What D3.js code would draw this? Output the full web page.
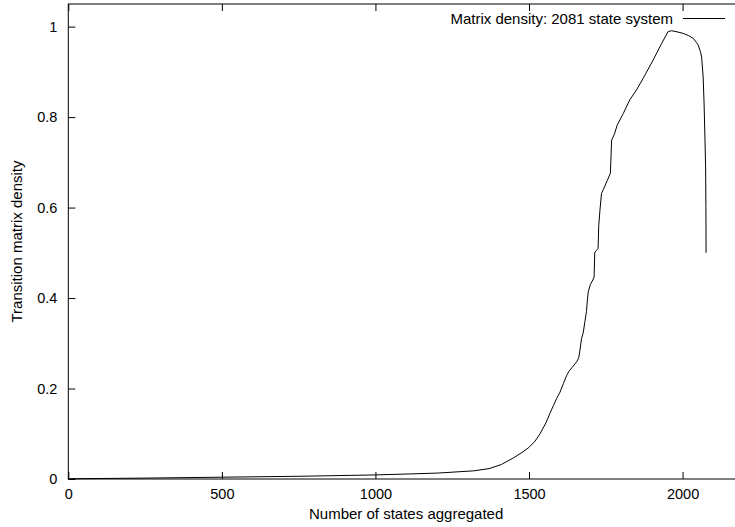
<meta charset="UTF-8">
<script src="https://cdn.jsdelivr.net/npm/d3@7"></script>

<svg id="chart"></svg>

<style>
 body { margin:0; background:#fff; }
 #chart { font-family:"Liberation Sans", Arial, sans-serif; font-size:15px; }
 .frame { fill:none; stroke:#000; stroke-width:1px; }
 .tick line { stroke:#000; }
 .tick text { fill:#000; }
 #density { fill:none; stroke:#000; stroke-width:1px; }
</style>

<script>
 // Values
 var states  = [0, 250, 500, 750, 1000, 1200, 1320, 1370, 1410, 1450, 1480, 1500, 1520, 1536,
                1555, 1568, 1580, 1590, 1601, 1612, 1622, 1630, 1642, 1655, 1662, 1666, 1671,
                1677, 1682, 1687, 1690, 1693, 1700, 1708, 1712, 1714, 1719, 1725, 1727, 1731,
                1736, 1742, 1755, 1765, 1769, 1778, 1787, 1807, 1828, 1850, 1872, 1904, 1932,
                1953, 1964, 1985, 2002, 2020, 2035, 2045, 2051, 2058, 2062, 2067, 2070, 2073,
                2075, 2076, 2076.5];
 var density = [0.0005, 0.002, 0.004, 0.006, 0.009, 0.013, 0.018, 0.023, 0.032, 0.047, 0.060, 0.070, 0.084, 0.100,
                0.124, 0.145, 0.163, 0.178, 0.192, 0.211, 0.228, 0.238, 0.248, 0.259, 0.268, 0.285, 0.310,
                0.325, 0.348, 0.370, 0.395, 0.414, 0.430, 0.440, 0.447, 0.500, 0.505, 0.510, 0.560, 0.594,
                0.631, 0.640, 0.660, 0.676, 0.749, 0.762, 0.782, 0.808, 0.838, 0.860, 0.886, 0.926, 0.963,
                0.989, 0.991, 0.988, 0.985, 0.980, 0.974, 0.965, 0.959, 0.945, 0.933, 0.889, 0.831, 0.749,
                0.690, 0.600, 0.500];
 var xTicks = [0, 500, 1000, 1500, 2000];
 var yTicks = [0, 0.2, 0.4, 0.6, 0.8, 1];
 var legendLabel = "Matrix density: 2081 state system";

 var W = 735, H = 527;
 var pLeft = 68.3, pRight = 744, pTop = 4, pBottom = 479;

 var svg = d3.select("#chart").attr("width", W).attr("height", H);

 var x = d3.scaleLinear().domain([0, 2200]).range([pLeft, pRight]);
 var y = d3.scaleLinear().domain([0, 1.05]).range([pBottom, pTop]);

 // Axes, gnuplot style: inward ticks, mirrored on top/right
 svg.append("g").attr("transform", "translate(0," + pBottom + ")")
    .call(d3.axisBottom(x).tickValues(xTicks).tickSize(-7).tickPadding(9.5).tickFormat(d3.format("d")))
    .call(function (g) { g.select(".domain").remove(); });
 svg.append("g").attr("transform", "translate(0," + pTop + ")")
    .call(d3.axisTop(x).tickValues(xTicks).tickSize(-7).tickFormat(""))
    .call(function (g) { g.select(".domain").remove(); });
 svg.append("g").attr("transform", "translate(" + pLeft + ",0)")
    .call(d3.axisLeft(y).tickValues(yTicks).tickSize(-7).tickPadding(11).tickFormat(d3.format("")))
    .call(function (g) { g.select(".domain").remove(); });
 svg.append("g").attr("transform", "translate(" + pRight + ",0)")
    .call(d3.axisRight(y).tickValues(yTicks).tickSize(-7).tickFormat(""))
    .call(function (g) { g.select(".domain").remove(); });
 svg.selectAll(".tick text").style("font-size", "14.5px").style("font-family", "Liberation Sans, Arial, sans-serif");

 svg.append("rect").attr("class", "frame")
    .attr("x", pLeft).attr("y", pTop).attr("width", pRight - pLeft).attr("height", pBottom - pTop);

 // Curve
 svg.append("path").attr("id", "density")
    .datum(d3.zip(states, density))
    .attr("d", d3.line().x(function (d) { return x(d[0]); }).y(function (d) { return y(d[1]); }));

 // Legend
 svg.append("text").attr("x", 673).attr("y", 23.5).attr("text-anchor", "end").text(legendLabel);
 svg.append("line").attr("x1", 683).attr("x2", 725).attr("y1", 18.5).attr("y2", 18.5)
    .attr("stroke", "#000").attr("stroke-width", 1);

 // Axis titles
 svg.append("text").attr("x", (pLeft + pRight) / 2).attr("y", 519).attr("text-anchor", "middle")
    .text("Number of states aggregated");
 svg.append("text").attr("transform", "translate(22," + ((pTop + pBottom) / 2) + ") rotate(-90)")
    .attr("text-anchor", "middle").text("Transition matrix density");
</script>
